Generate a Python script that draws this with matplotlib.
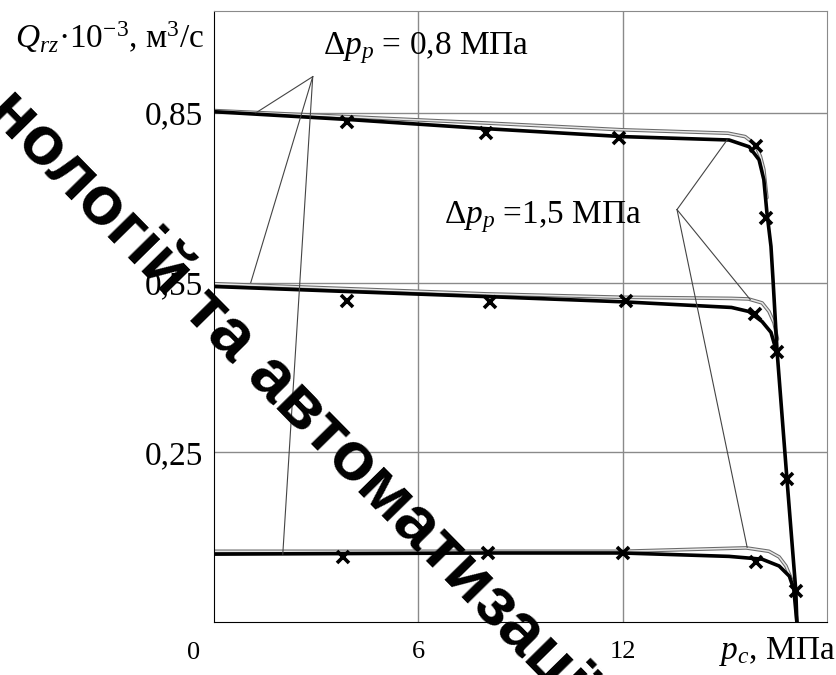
import matplotlib
matplotlib.use("Agg")
import matplotlib.pyplot as plt

plt.rcParams['font.family'] = ['Liberation Serif', 'DejaVu Serif']
plt.rcParams['mathtext.fontset'] = 'custom'
plt.rcParams['mathtext.rm'] = 'Liberation Serif'
plt.rcParams['mathtext.it'] = 'Liberation Serif:italic'

# --- розрахункові криві (товсті), Δp_p = 0,8 МПа ---
x_top = [0, 4, 8, 12, 15.13, 15.72, 16.01, 16.15, 16.24, 16.36, 16.42, 16.54, 16.83, 17.09, 17.12]
q_top = [0.852, 0.838, 0.822, 0.808, 0.802, 0.790, 0.767, 0.732, 0.674, 0.614, 0.555, 0.428, 0.202, 0.005, -0.05]

x_mid = [0, 4, 8.1, 12, 15.2, 15.7, 16.1, 16.36, 16.48, 16.54]
q_mid = [0.543, 0.534, 0.525, 0.516, 0.506, 0.499, 0.481, 0.462, 0.437, 0.428]

x_low = [0, 4, 8, 12, 15.13, 16.1, 16.6, 16.9, 17.03, 17.12]
q_low = [0.070, 0.071, 0.072, 0.072, 0.066, 0.061, 0.049, 0.031, 0.008, -0.05]

# --- тонкі криві, Δp_p = 1,5 МПа ---
x_top2 = [0, 8, 12, 15.1, 15.6, 15.9, 16.05, 16.15, 16.24]
q_top2 = [0.854, 0.832, 0.820, 0.814, 0.808, 0.794, 0.773, 0.750, 0.700]

x_mid2 = [0, 8, 12, 15.2, 15.7, 16.1, 16.3, 16.45, 16.55]
q_mid2 = [0.548, 0.530, 0.524, 0.522, 0.521, 0.514, 0.499, 0.479, 0.450]

x_low2 = [0, 8, 12, 15.63, 16.3, 16.6, 16.8, 17.0]
q_low2 = [0.075, 0.075, 0.075, 0.081, 0.075, 0.065, 0.049, 0.020]

# --- експериментальні точки ---
x_exp = [3.92, 8.0, 11.9, 15.92, 16.21, 16.54, 16.83, 17.09,
         3.92, 8.1, 12.1, 15.9,
         3.8, 8.05, 12.0, 15.92]
q_exp = [0.834, 0.815, 0.806, 0.792, 0.665, 0.428, 0.202, 0.005,
         0.517, 0.515, 0.518, 0.495,
         0.065, 0.072, 0.072, 0.056]

fig = plt.figure(figsize=(8.36, 6.75), dpi=100)
ax = fig.add_axes([0.256, 0.0785, 0.733, 0.9052])
ax.set_xlim(0, 18)
ax.set_ylim(-0.05, 1.03)

for v in [6, 12]:
    ax.axvline(v, color='#8a8a8a', lw=1, zorder=0)
for v in [0.25, 0.55, 0.85]:
    ax.axhline(v, color='#8a8a8a', lw=1, zorder=0)

for xs, qs in [(x_top2, q_top2), (x_mid2, q_mid2), (x_low2, q_low2)]:
    ax.plot(xs, qs, color='#6a6a6a', lw=2.6, solid_capstyle='round', zorder=2)
    ax.plot(xs, qs, color='#e6e6e6', lw=1.1, zorder=2)

for xs, qs in [(x_top, q_top), (x_mid, q_mid), (x_low, q_low)]:
    ax.plot(xs, qs, color='black', lw=2.6, zorder=3)

ax.plot(x_exp, q_exp, ls='none', marker='x', ms=9, mew=2.6, color='black', zorder=4)

# виноски
apex1 = (2.9, 0.914)
for tx, ty in [(1.23, 0.85), (1.08, 0.55), (2.02, 0.07)]:
    ax.plot([apex1[0], tx], [apex1[1], ty], color='#444444', lw=0.8, zorder=3)
apex2 = (13.6, 0.679)
for tx, ty in [(15.07, 0.802), (15.75, 0.52), (15.66, 0.082)]:
    ax.plot([apex2[0], tx], [apex2[1], ty], color='#444444', lw=0.8, zorder=3)

ax.text(3.2, 0.965, r"$\Delta p_p$ = 0,8 МПа", fontsize=24, va='center', ha='left')
ax.text(6.75, 0.665, r"$\Delta p_p$ =1,5 МПа", fontsize=24, va='center', ha='left')

ax.set_xticks([6, 12])
ax.set_xticklabels(['6', '12'])
ax.set_yticks([0.25, 0.55, 0.85])
ax.set_yticklabels(['0,25', '0,55', '0,85'])
ax.tick_params(axis='y', length=0, pad=8, labelsize=24)
ax.tick_params(axis='x', length=0, pad=14, labelsize=19)
ax.text(-0.6, -0.105, '0', fontsize=19, ha='center', va='center')

for s in ['top', 'right']:
    ax.spines[s].set_color('#8a8a8a')
for s in ['left', 'bottom']:
    ax.spines[s].set_color('black')

fig.text(0.018, 0.945, r"$Q_{rz}$·10$^{-3}$, м$^3$/с", fontsize=24, ha='left', va='center')
fig.text(0.999, 0.035, r"$p_c$, МПа", fontsize=24, ha='right', va='center')

# водяний знак
fig.text(-0.017, 0.834, "нологій та автоматизації", fontsize=50, fontweight='bold',
         family=['Liberation Sans', 'DejaVu Sans'], rotation=-45.5,
         rotation_mode='anchor', ha='left', va='baseline', color='black', zorder=10)

fig.savefig("out.png", dpi=100)
